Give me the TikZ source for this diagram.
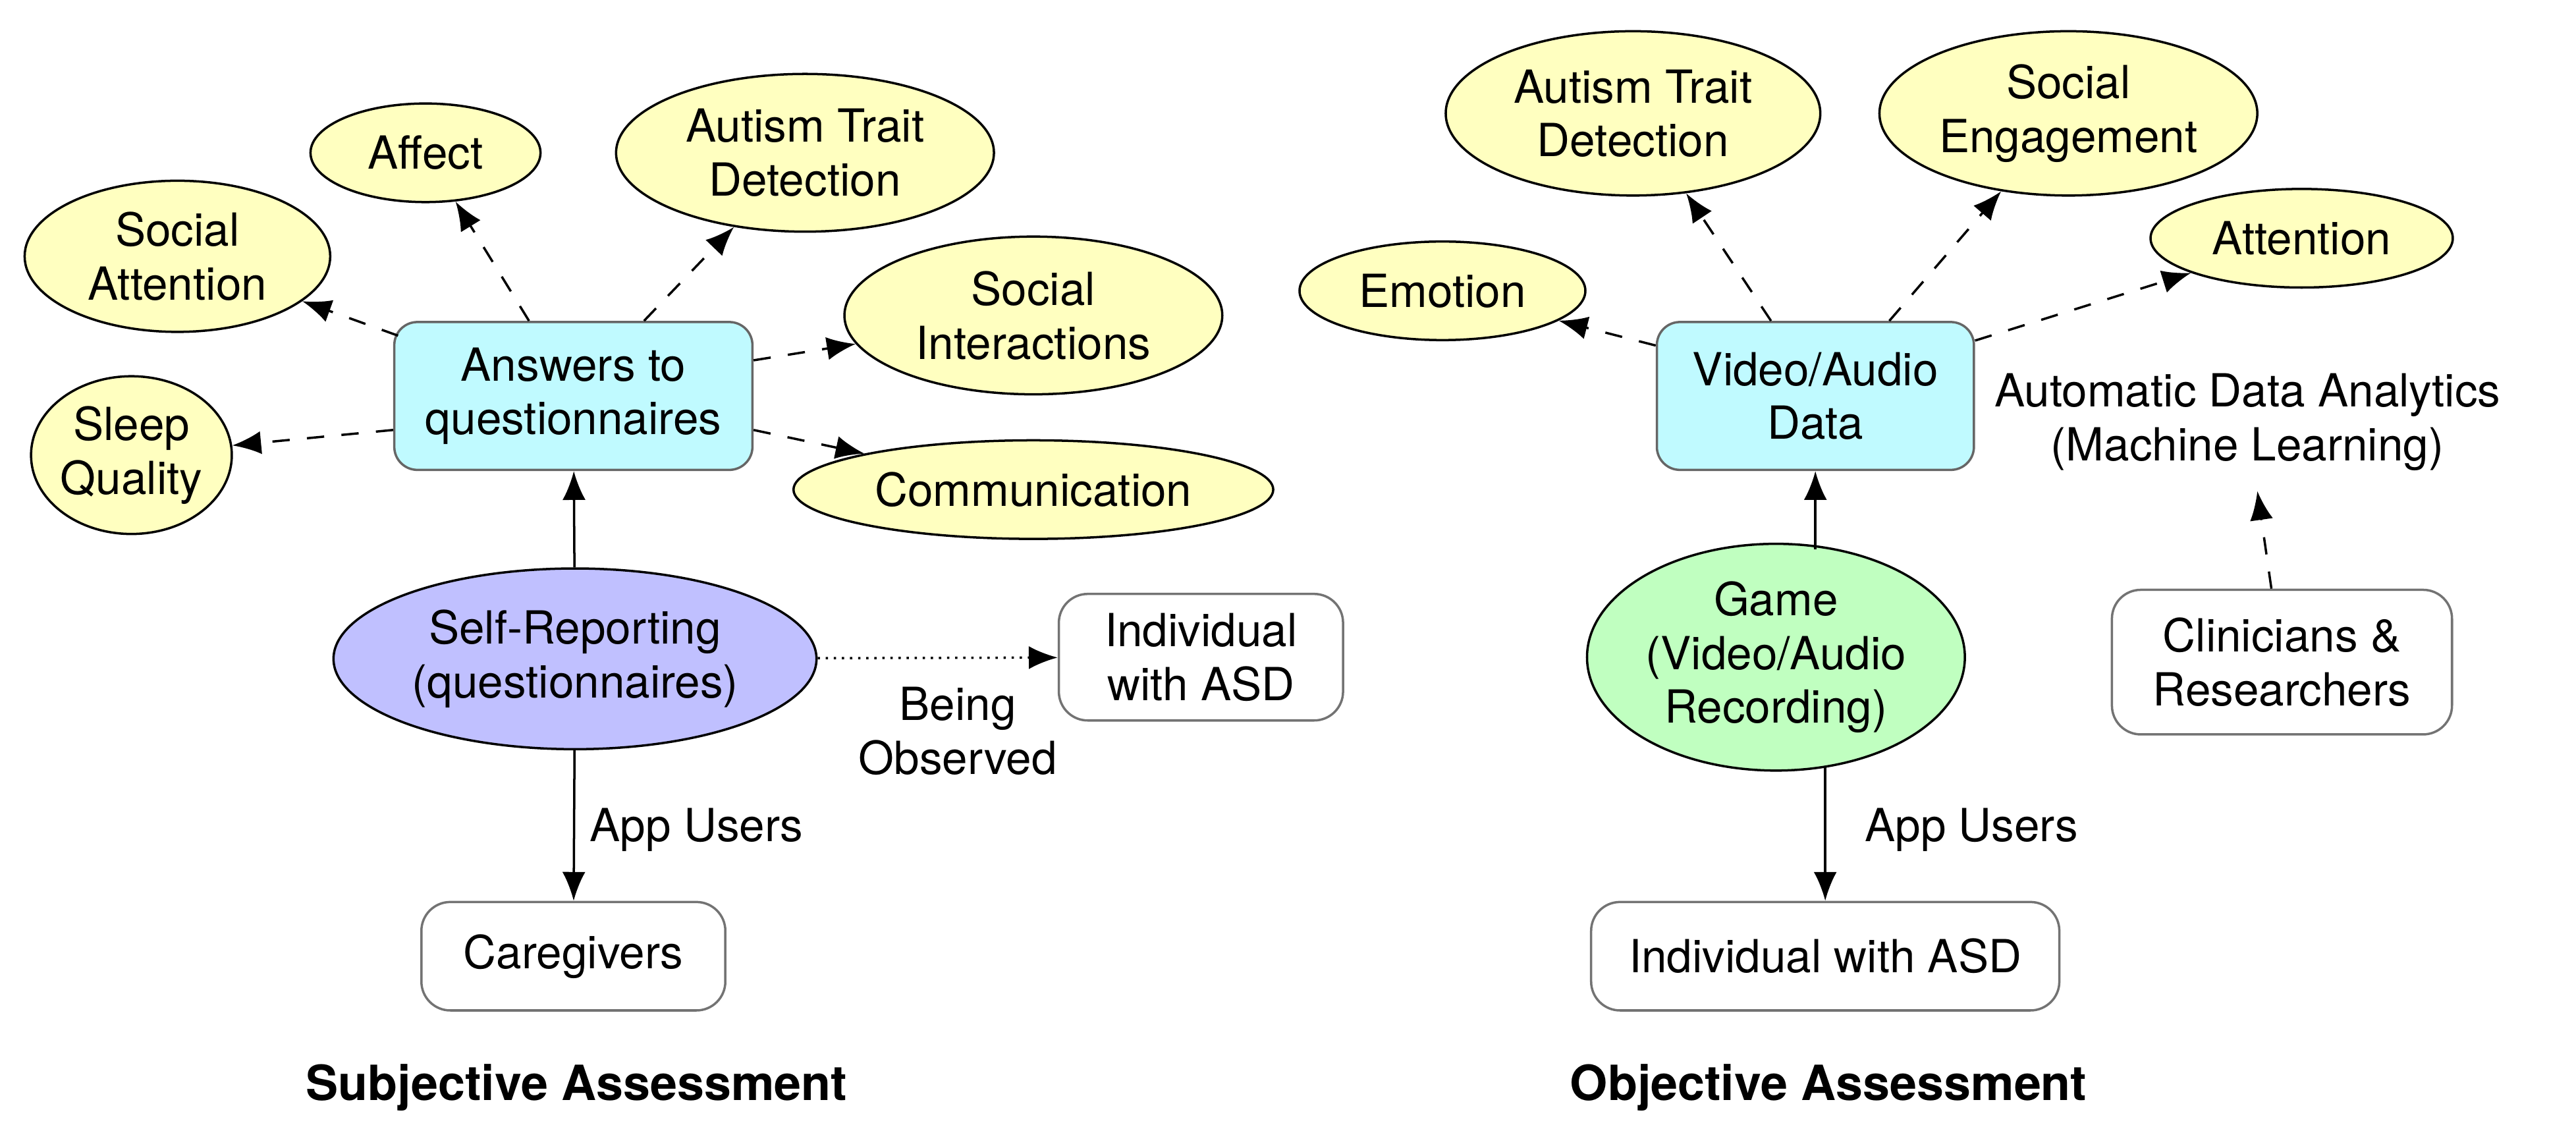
\documentclass[tikz,border=0pt]{standalone}
\usepackage{fontspec}
\setmainfont{TeX Gyre Heros}
\usetikzlibrary{positioning, arrows.meta, calc, shapes.geometric}
\definecolor{ovalyellow}{RGB}{255,255,192}
\definecolor{boxcyan}{RGB}{192,250,255}
\definecolor{ovalblue}{RGB}{192,192,255}
\definecolor{ovalgreen}{RGB}{192,255,192}
\tikzset{
  every node/.style={font=\fontsize{7.9}{9.3}\selectfont, align=center},
  trait/.style={ellipse, draw, fill=ovalyellow, inner sep=0pt},
  data/.style={draw=black!60, fill=boxcyan, rounded corners=4pt, minimum width=2.18cm, minimum height=0.9cm},
  source/.style={ellipse, draw, inner sep=0pt},
  user/.style={draw=black!55, rounded corners=5pt, fill=white},
  link/.style={-{Latex[length=5pt,width=4pt]}, thin},
  weak/.style={link, dashed}
}
\begin{document}
\begin{tikzpicture}
    \useasboundingbox (0,0) rectangle (15.68,-6.87);

    % Subjective side
    \node[data] (ans) at (3.49,-2.41) {Answers to\\questionnaires};
    \node[trait, minimum width=1.86cm, minimum height=0.92cm] (sattn) at (1.08,-1.56) {Social\\Attention};
    \node[trait, minimum width=1.40cm, minimum height=0.60cm] (affect) at (2.59,-0.93) {Affect};
    \node[trait, minimum width=2.30cm, minimum height=0.96cm] (ltrait) at (4.90,-0.93) {Autism Trait\\Detection};
    \node[trait, minimum width=2.30cm, minimum height=0.96cm] (sint) at (6.29,-1.92) {Social\\Interactions};
    \node[trait, minimum width=1.16cm, minimum height=0.96cm] (sleep) at (0.80,-2.77) {Sleep\\Quality};
    \node[trait, minimum width=2.92cm, minimum height=0.60cm] (comm) at (6.29,-2.98) {Communication};
    \node[source, fill=ovalblue, minimum width=2.94cm, minimum height=1.10cm] (self) at (3.50,-4.01) {Self-Reporting\\(questionnaires)};
    \node[user, minimum width=1.73cm, minimum height=0.77cm] (lind) at (7.31,-4.00) {Individual\\with ASD};
    \node[user, minimum width=1.85cm, minimum height=0.66cm] (care) at (3.49,-5.82) {Caregivers};
    \node (lobs) at (5.83,-4.45) {Being\\Observed};
    \node (lapp) at (4.24,-5.05) {App Users};
    \node[font=\fontsize{8.4}{9.5}\selectfont\bfseries] (subj) at (3.51,-6.62) {Subjective Assessment};

    \draw[weak] ($(ans.north)+(-0.27,0)$) -- (affect);
    \draw[weak] ($(ans.north)+(0.43,0)$) -- (ltrait);
    \draw[weak] ($(ans.north west)+(0.03,-0.09)$) -- (sattn);
    \draw[weak] ($(ans.south west)+(0,0.25)$) -- (sleep);
    \draw[weak] ($(ans.north east)+(0,-0.24)$) -- (sint);
    \draw[weak] ($(ans.south east)+(0,0.25)$) -- (comm);
    \draw[link] (self) -- (ans);
    \draw[link] (self) -- (care);
    \draw[link, densely dotted] (self) -- (lind);

    % Objective side
    \node[data, minimum width=1.93cm] (vid) at (11.05,-2.41) {Video/Audio\\Data};
    \node[trait, minimum width=1.74cm, minimum height=0.60cm] (emo) at (8.78,-1.77) {Emotion};
    \node[trait, minimum width=2.28cm, minimum height=1.00cm] (rtrait) at (9.94,-0.69) {Autism Trait\\Detection};
    \node[trait, minimum width=2.30cm, minimum height=1.00cm] (seng) at (12.59,-0.69) {Social\\Engagement};
    \node[trait, minimum width=1.84cm, minimum height=0.60cm] (attn) at (14.01,-1.45) {Attention};
    \node (auto) at (13.68,-2.57) {Automatic Data Analytics\\(Machine Learning)};
    \node[user, minimum width=2.07cm, minimum height=0.88cm] (clin) at (13.89,-4.03) {Clinicians \&\\Researchers};
    \node[source, fill=ovalgreen, minimum width=2.30cm, minimum height=1.38cm] (game) at (10.81,-4.00) {Game\\(Video/Audio\\Recording)};
    \node[user, minimum width=2.85cm, minimum height=0.66cm] (rind) at (11.11,-5.82) {Individual with ASD};
    \node (rapp) at (12.00,-5.05) {App Users};
    \node[font=\fontsize{8.4}{9.5}\selectfont\bfseries] (obj) at (11.13,-6.62) {Objective Assessment};

    \draw[weak] ($(vid.north)+(-0.27,0)$) -- (rtrait);
    \draw[weak] ($(vid.north)+(0.45,0)$) -- (seng);
    \draw[weak] ($(vid.north west)+(0,-0.15)$) -- (emo);
    \draw[weak] ($(vid.north east)+(0,-0.12)$) -- (attn);
    \draw[link] ($(game.north -| vid)+(0,-0.04)$) -- (vid);
    \draw[link] ($(game.south -| rind)+(0,0.03)$) -- (rind);
    \draw[weak] (clin) -- (auto);
\end{tikzpicture}
\end{document}
